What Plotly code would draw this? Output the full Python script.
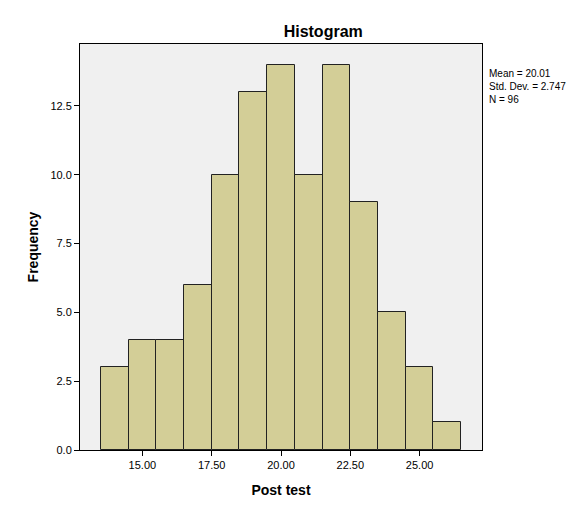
import plotly.graph_objects as go

# bin centres (width 1) and counts
bin_centers = [14, 15, 16, 17, 18, 19, 20, 21, 22, 23, 24, 25, 26]
counts = [3, 4, 4, 6, 10, 13, 14, 10, 14, 9, 5, 3, 1]
x_ticks = [15, 17.5, 20, 22.5, 25]
y_ticks = [0, 2.5, 5, 7.5, 10, 12.5]
stats_text = "Mean = 20.01<br>Std. Dev. = 2.747<br>N = 96"

fig = go.Figure()

fig.add_trace(go.Bar(
    x=bin_centers, y=counts, width=1,
    marker=dict(color="#D3CE97", line=dict(color="#222222", width=1)),
    hoverinfo="x+y"
))

fig.add_annotation(
    xref="paper", yref="paper", x=1.012, y=0.945,
    xanchor="left", yanchor="top", align="left",
    text=stats_text, showarrow=False,
    font=dict(family="Liberation Sans", size=10, color="black")
)

# page body adds an 8px offset, so the figure is a bit smaller than the window
fig.update_layout(
    width=571, height=499,
    margin=dict(l=72, r=97, t=36, b=57),
    paper_bgcolor="white",
    plot_bgcolor="#F0F0F0",
    showlegend=False,
    bargap=0,
    font=dict(family="Liberation Sans", size=11, color="black"),
    title=dict(text="<b>Histogram</b>", x=0.552, xanchor="center", y=0.954, yanchor="middle",
               font=dict(size=16, color="black")),
    xaxis=dict(
        range=[12.75, 27.25], tickvals=x_ticks, tickformat=".2f",
        ticks="outside", ticklen=5, tickcolor="black",
        showline=True, linecolor="black", mirror=True,
        showgrid=False, zeroline=False,
        title=dict(text="<b>Post test</b>", font=dict(size=14), standoff=14)
    ),
    yaxis=dict(
        range=[0, 14.75], tickvals=y_ticks, tickformat=".1f",
        ticks="outside", ticklen=5, tickcolor="black",
        showline=True, linecolor="black", mirror=True,
        showgrid=False, zeroline=False,
        title=dict(text="<b>Frequency</b>", font=dict(size=14), standoff=8)
    )
)

fig.write_html("out.html")
